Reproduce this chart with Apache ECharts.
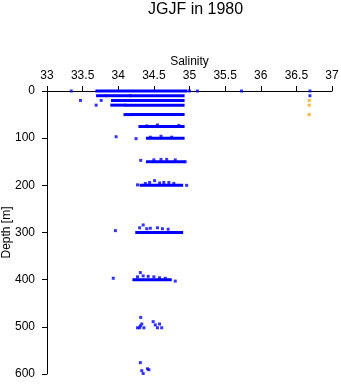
<!DOCTYPE html>
<html>
<head>
<meta charset="utf-8">
<script src="https://cdn.jsdelivr.net/npm/echarts@6/dist/echarts.min.js"></script>
<style>html,body{margin:0;padding:0;background:#fff;}#c{width:341px;height:384px;}</style>
</head>
<body>
<div id="c"></div>
<script>
// Dense runs of samples at a given depth (salinity from -> to)
var runDepth = [0, 10, 10, 10, 20, 30, 30, 50, 50, 75, 100, 150, 200, 300, 400];
var runFrom  = [33.70, 33.71, 33.84, 34.18, 33.92, 33.91, 34.11, 34.095, 34.19, 34.305, 34.41, 34.41, 34.32, 34.26, 34.22];
var runTo    = [34.95, 33.82, 34.165, 34.91, 34.91, 34.09, 34.91, 34.18, 34.91, 34.91, 34.91, 34.92, 34.89, 34.89, 34.73];

// Individual blue samples
var blueSal = [33.34, 35.00, 35.11, 35.73, 36.69,
  36.69,
  33.47, 33.76,
  33.69,
  34.40, 34.55, 34.85,
  33.97, 34.25, 34.45, 34.60, 34.75,
  34.315, 34.50, 34.60, 34.68, 34.80, 34.94,
  34.27, 34.96, 34.51, 34.44, 34.64, 34.71, 34.58, 34.78, 34.38,
  33.96, 34.35, 34.30, 34.45, 34.55, 34.62, 34.70, 34.40,
  33.93, 34.80, 34.31, 34.35, 34.42, 34.50, 34.58, 34.66, 34.27,
  34.315, 34.27, 34.30, 34.33, 34.36, 34.31, 34.49, 34.52, 34.58, 34.55, 34.61,
  34.31, 34.33, 34.41, 34.43, 34.455, 34.31, 34.375, 34.35];
var blueDepth = [0, 0, 0, 0, 0,
  10,
  20, 20,
  30,
  74, 72, 73,
  97, 101, 98, 96, 98,
  147, 146, 145, 145, 146, 150,
  199, 200, 190, 194, 194, 194, 195, 196, 196,
  296, 284, 290, 291, 290, 292, 293, 292,
  397, 403, 385, 392, 393, 394, 396, 397, 394,
  480, 502, 502, 494, 502, 498, 489, 496, 494, 502, 502,
  576, 593, 589, 591, 603, 603, 603, 599];

// Orange samples
var orangeSal = [36.68, 36.68, 36.68];
var orangeDepth = [20, 30, 50];

var xTicks = ['33', '33.5', '34', '34.5', '35', '35.5', '36', '36.5', '37'];

var runData = runDepth.map(function (d, i) { return [d, runFrom[i], runTo[i]]; });
var blueData = blueSal.map(function (s, i) { return [s, blueDepth[i]]; });
var orangeData = orangeSal.map(function (s, i) { return [s, orangeDepth[i]]; });

var chart = echarts.init(document.getElementById('c'), null, {renderer: 'canvas'});
var font = 'Liberation Sans, Arial, Helvetica, sans-serif';
chart.setOption({
  animation: false,
  backgroundColor: '#ffffff',
  title: {
    text: 'JGJF in 1980',
    left: 143, top: -3,
    textStyle: {fontFamily: font, fontSize: 16, fontWeight: 'normal', color: '#000'}
  },
  grid: {left: 47, right: 9, top: 91, bottom: 10, containLabel: false, outerBoundsMode: 'none'},
  xAxis: {
    type: 'value', position: 'top', min: 33, max: 37, interval: 0.5,
    name: 'Salinity', nameLocation: 'middle', nameGap: 23, nameMoveOverlap: false,
    nameTextStyle: {fontFamily: font, fontSize: 12, color: '#000'},
    axisLine: {onZero: false, lineStyle: {color: '#000', width: 1}},
    axisTick: {show: true, length: 5, lineStyle: {color: '#000'}},
    axisLabel: {fontFamily: font, fontSize: 12, color: '#000', margin: 9,
      formatter: function (v) { var i = Math.round((v - 33) / 0.5); return xTicks[i] !== undefined ? xTicks[i] : ''; }},
    splitLine: {show: false}
  },
  yAxis: {
    type: 'value', inverse: true, min: 0, max: 600, interval: 100,
    name: 'Depth [m]', nameLocation: 'middle', nameGap: 34, nameRotate: 90, nameMoveOverlap: false,
    nameTextStyle: {fontFamily: font, fontSize: 12, color: '#000'},
    axisLine: {show: true, onZero: false, lineStyle: {color: '#000', width: 1}},
    axisTick: {show: true, length: 5, lineStyle: {color: '#000'}},
    axisLabel: {fontFamily: font, fontSize: 12, color: '#000', margin: 12},
    splitLine: {show: false}
  },
  series: [
    {
      type: 'custom',
      data: runData,
      encode: {x: [1, 2], y: 0},
      renderItem: function (params, api) {
        var p0 = api.coord([api.value(1), api.value(0)]);
        var p1 = api.coord([api.value(2), api.value(0)]);
        return {type: 'rect', shape: {x: p0[0] - 1.5, y: p0[1] - 1.5, width: p1[0] - p0[0] + 3, height: 3},
          style: {fill: '#0000ff'}};
      }
    },
    {type: 'scatter', data: blueData, symbol: 'rect', symbolSize: 3,
      itemStyle: {color: '#0000ff'}},
    {type: 'scatter', data: orangeData, symbol: 'rect', symbolSize: 3,
      itemStyle: {color: '#ffa500'}}
  ]
});
</script>
</body>
</html>
